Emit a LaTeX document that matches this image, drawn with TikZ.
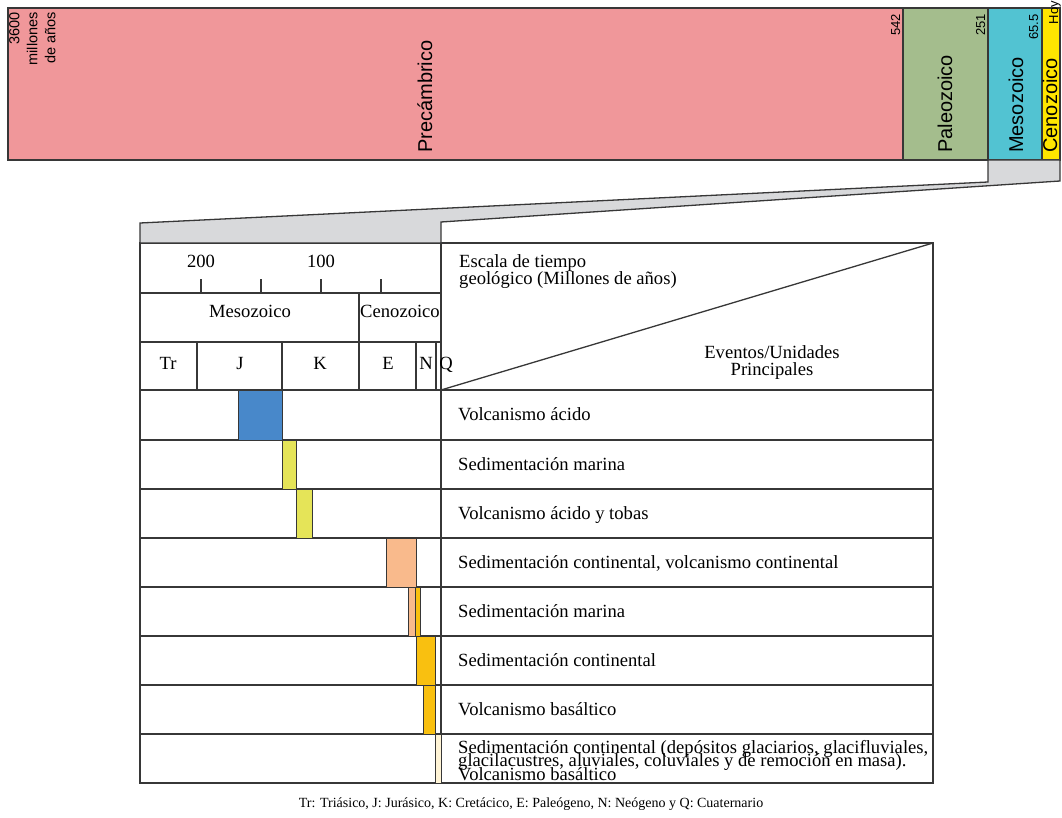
\documentclass[tikz,border=0pt]{standalone}
\usepackage{fontspec}
\setmainfont{Liberation Serif}
\newfontfamily\sanseras{Liberation Sans}
\usetikzlibrary{positioning}

\definecolor{rosa}{RGB}{240,151,154}
\definecolor{verdepal}{RGB}{164,189,141}
\definecolor{cian}{RGB}{82,195,210}
\definecolor{amarillo}{RGB}{255,229,0}
\definecolor{grisz}{RGB}{216,217,219}
\definecolor{azulv}{RGB}{72,136,202}
\definecolor{amarsed}{RGB}{229,228,88}
\definecolor{salmon}{RGB}{249,186,140}
\definecolor{oro}{RGB}{249,192,16}
\definecolor{crema}{RGB}{255,244,214}
\definecolor{linea}{RGB}{55,55,55}
\newcommand\apretado{\lineskiplimit=-20pt\relax}

\begin{document}
\begin{tikzpicture}[
        x=1pt, y=-1pt,
        font=\fontsize{18.6}{17.5}\selectfont,
        era/.style={rectangle, draw=linea, line width=1.4pt, inner sep=0pt, outer sep=0pt, minimum height=152pt},
        eralabel/.style={font=\sanseras\fontsize{20}{20}\selectfont, rotate=90, anchor=base west, inner sep=0pt},
        edad/.style={font=\sanseras\fontsize{13}{13}\selectfont, rotate=90, anchor=base east, inner sep=0pt},
        celda/.style={rectangle, draw=linea, line width=1.3pt, inner sep=0pt, outer sep=0pt, anchor=north west},
        tramo/.style={draw=linea, line width=1.3pt},
        barra/.style={draw=linea, line width=1pt},
        evento/.style={anchor=base west, inner sep=0pt},
        rotulo/.style={anchor=base, inner sep=0pt}
    ]
    \useasboundingbox (0,0) rectangle (1062,818);

    \node (precambrico) [era, fill=rosa, minimum width=895pt, anchor=north west] at (8,8) {};
    \node (paleozoico) [era, fill=verdepal, minimum width=85pt, right=0pt of precambrico] {};
    \node (mesozoico) [era, fill=cian, minimum width=54pt, right=0pt of paleozoico] {};
    \node (cenozoico) [era, fill=amarillo, minimum width=18pt, right=0pt of mesozoico] {};

    \node (t3600) [edad, anchor=north east, align=right, font=\sanseras\fontsize{14.5}{18}\selectfont] at (9,12) {3600\\millones\\de años};
    \node (t542) [edad] at (900,14) {542};
    \node (t251) [edad] at (985,14) {251};
    \node (t655) [edad] at (1038,14) {65.5};
    \node (thoy) [edad] at (1058,1) {Hoy};

    \node (lprec) [eralabel] at (432,153) {Precámbrico};
    \node (lpaleo) [eralabel] at (952,153) {Paleozoico};
    \node (lmeso) [eralabel] at (1023,153) {Mesozoico};
    \node (lceno) [eralabel] at (1057,153) {Cenozoico};

    \node (izq) [celda, minimum width=301pt, minimum height=540pt] at (140,243) {};
    \node (der) [celda, minimum width=492pt, minimum height=540pt] at (441,243) {};

    \draw [tramo, fill=grisz] (mesozoico.south west) -- ++(0,22) -- ([yshift=20pt]izq.north west) -- (izq.north west)
        -- (izq.north east) -- ([yshift=21pt]izq.north east) -- ([yshift=-21pt]cenozoico.south east) -- (cenozoico.south east) -- cycle;

    \draw [tramo] (140,293) -- (441,293) (140,342) -- (441,342);
    \draw [tramo] (140,390) -- (933,390) (140,440) -- (933,440) (140,489) -- (933,489) (140,538) -- (933,538)
        (140,587) -- (933,587) (140,636) -- (933,636) (140,685) -- (933,685) (140,734) -- (933,734);
    \draw [tramo] (359,293) -- (359,390) (197,342) -- (197,390) (282,342) -- (282,390) (416,342) -- (416,390) (436,342) -- (436,390);
    \draw [tramo] (201,279) -- (201,293) (261,279) -- (261,293) (321,279) -- (321,293) (381,279) -- (381,293);
    \draw [tramo] (der.north east) -- (441,390);

    \draw [barra, fill=azulv] (238,390) rectangle (282,440);
    \draw [barra, fill=amarsed] (282,440) rectangle (296,489);
    \draw [barra, fill=amarsed] (296,489) rectangle (312,538);
    \draw [barra, fill=salmon] (386,538) rectangle (416,587);
    \draw [barra, fill=salmon] (408,587) rectangle (415,636);
    \draw [barra, fill=oro] (415,587) rectangle (420,636);
    \draw [barra, fill=oro] (416,636) rectangle (435,685);
    \draw [barra, fill=oro] (423,685) rectangle (435,734);
    \draw [barra, fill=crema] (435,734) rectangle (441,783);

    \node (n200) [rotulo] at (201,267) {200};
    \node (n100) [rotulo] at (321,267) {100};
    \node (lmesoz) [rotulo] at (250,317) {Mesozoico};
    \node (lcenoz) [rotulo] at (400,317) {Cenozoico};
    \node (ltr) [rotulo] at (168,369) {Tr};
    \node (lj) [rotulo] at (240,369) {J};
    \node (lk) [rotulo] at (320,369) {K};
    \node (le) [rotulo] at (388,369) {E};
    \node (ln) [rotulo] at (426,369) {N};
    \node (lq) [rotulo] at (446,369) {Q};

    \node (escala) [anchor=north west, align=left, inner sep=0pt] at (459,254) {Escala de tiempo\\geológico (Millones de años)};
    \node (eventos) [anchor=north, align=center, inner sep=0pt] at (772,345) {Eventos/Unidades\\Principales};

    \node (ev1) [evento] at (458,420) {Volcanismo ácido};
    \node (ev2) [evento] at (458,470) {Sedimentación marina};
    \node (ev3) [evento] at (458,519) {Volcanismo ácido y tobas};
    \node (ev4) [evento] at (458,568) {Sedimentación continental, volcanismo continental};
    \node (ev5) [evento] at (458,617) {Sedimentación marina};
    \node (ev6) [evento] at (458,666) {Sedimentación continental};
    \node (ev7) [evento] at (458,715) {Volcanismo basáltico};
    \node (ev8) [anchor=north west, align=left, inner sep=0pt, font=\fontsize{18.6}{13.5}\selectfont\apretado] at (458,740)
        {Sedimentación continental (depósitos glaciarios, glacifluviales,\\glacilacustres, aluviales, coluviales y de remoción en masa).\\Volcanismo basáltico};

    \node (leyenda) [rotulo, font=\fontsize{14}{14}\selectfont] at (531,807) {Tr: Triásico, J: Jurásico, K: Cretácico, E: Paleógeno, N: Neógeno y Q: Cuaternario};
\end{tikzpicture}
\end{document}
